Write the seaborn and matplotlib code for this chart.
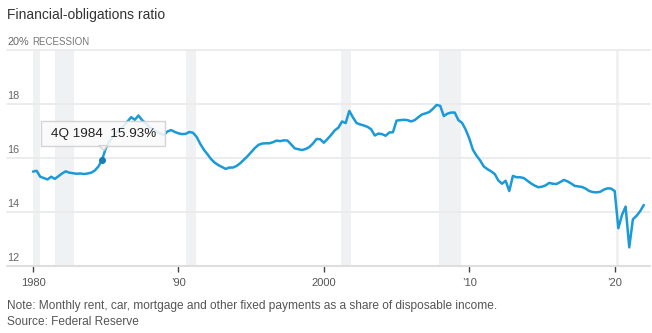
import numpy as np
import pandas as pd
import matplotlib
matplotlib.use("Agg")
import matplotlib.pyplot as plt
import matplotlib.transforms as mtransforms
from matplotlib.patches import Polygon, Rectangle
import seaborn as sns

# ---------------- data (quarterly, 1Q 1980 - 1Q 2022) ----------------
start_year = 1980
ratio = [
    15.49, 15.52, 15.30, 15.25,   # 1980
    15.20, 15.30, 15.22, 15.32,   # 1981
    15.42, 15.50, 15.45, 15.43,   # 1982
    15.41, 15.42, 15.40, 15.42,   # 1983
    15.45, 15.53, 15.68, 15.93,   # 1984
    16.35, 16.60, 16.79, 16.95,   # 1985
    17.06, 17.20, 17.35, 17.51,   # 1986
    17.41, 17.57, 17.40, 17.28,   # 1987
    17.15, 17.05, 16.97, 16.90,   # 1988
    16.85, 16.98, 17.03, 16.96,   # 1989
    16.91, 16.88, 16.89, 16.96,   # 1990
    16.93, 16.78, 16.52, 16.30,   # 1991
    16.13, 15.95, 15.82, 15.73,   # 1992
    15.66, 15.59, 15.64, 15.64,   # 1993
    15.70, 15.80, 15.93, 16.06,   # 1994
    16.21, 16.36, 16.48, 16.53,   # 1995
    16.54, 16.54, 16.58, 16.64,   # 1996
    16.62, 16.65, 16.64, 16.50,   # 1997
    16.35, 16.32, 16.29, 16.33,   # 1998
    16.40, 16.53, 16.70, 16.69,   # 1999
    16.56, 16.70, 16.85, 17.02,   # 2000
    17.12, 17.35, 17.29, 17.74,   # 2001
    17.50, 17.29, 17.24, 17.20,   # 2002
    17.15, 17.06, 16.83, 16.90,   # 2003
    16.88, 16.82, 16.94, 16.95,   # 2004
    17.38, 17.40, 17.41, 17.40,   # 2005
    17.35, 17.40, 17.51, 17.61,   # 2006
    17.65, 17.70, 17.82, 17.96,   # 2007
    17.93, 17.55, 17.64, 17.68,   # 2008
    17.68, 17.40, 17.30, 17.05,   # 2009
    16.72, 16.30, 16.08, 15.90,   # 2010
    15.68, 15.58, 15.50, 15.40,   # 2011
    15.16, 15.04, 15.15, 14.77,   # 2012
    15.33, 15.28, 15.28, 15.25,   # 2013
    15.15, 15.05, 14.97, 14.91,   # 2014
    14.93, 14.98, 15.07, 15.04,   # 2015
    15.03, 15.10, 15.18, 15.13,   # 2016
    15.05, 14.96, 14.94, 14.92,   # 2017
    14.86, 14.77, 14.73, 14.72,   # 2018
    14.74, 14.82, 14.87, 14.86,   # 2019
    14.77, 13.39, 13.88, 14.19,   # 2020
    12.68, 13.72, 13.85, 14.02,   # 2021
    14.25,                        # 2022
]
quarter_pos = [start_year + i / 4 for i in range(len(ratio))]

recession_start = [1980.0, 1981.5, 1990.5, 2001.2, 2007.9, 2020.1]
recession_end   = [1980.5, 1982.85, 1991.2, 2001.85, 2009.45, 2020.3]

y_ticks = [12, 14, 16, 18, 20]
y_labels = ["12", "14", "16", "18", "20%"]
x_ticks = [1980, 1990, 2000, 2010, 2020]
x_labels = ["1980", "\u201990", "2000", "\u201910", "\u201920"]

hl_label = "4Q 1984  15.93%"
hl_x = 1984.75
hl_y = 15.93

title = "Financial-obligations ratio"
note = "Note: Monthly rent, car, mortgage and other fixed payments as a share of disposable income."
source = "Source: Federal Reserve"

df = pd.DataFrame({"year": quarter_pos, "ratio": ratio})

# ---------------- figure ----------------
sns.set_theme(style="white")
plt.rcParams["font.family"] = ["Liberation Sans", "DejaVu Sans"]

W, H = 652, 333
fig = plt.figure(figsize=(W / 100, H / 100), dpi=100)
fig.patch.set_facecolor("white")

ax_left, ax_right = 7, 650
ax_top, ax_bottom = 50, 265.7
ax = fig.add_axes([ax_left / W, (H - ax_bottom) / H,
                   (ax_right - ax_left) / W, (ax_bottom - ax_top) / H])
ax.set_facecolor("none")

ppy = (614.7 - 33.0) / 40.0
x0 = 1980 - (33.0 - ax_left) / ppy
x1 = 1980 + (ax_right - 33.0) / ppy
ax.set_xlim(x0, x1)
ax.set_ylim(12, 20)

for s in ax.spines.values():
    s.set_visible(False)

# recession bands
for a, b in zip(recession_start, recession_end):
    ax.axvspan(a, b, ymin=0, ymax=1, color="#eff1f3", lw=0, zorder=0)

# gridlines
for yv in y_ticks[1:]:
    ax.axhline(yv, color="#ebebeb", lw=1.3, zorder=1, clip_on=False)
ax.axhline(12, color="#dedede", lw=1.5, zorder=1, clip_on=False)

# line
line_color = "#1a9ad8"
sns.lineplot(data=df, x="year", y="ratio", color=line_color, linewidth=1.8,
             ax=ax, zorder=3)

# y labels (above gridlines, inside)
ytrans = mtransforms.blended_transform_factory(ax.transAxes, ax.transData)
for yv, lab in zip(y_ticks, y_labels):
    ax.text(0.0, yv, lab, transform=ytrans + mtransforms.ScaledTranslation(0, 2.0 / 72, fig.dpi_scale_trans),
            ha="left", va="bottom", fontsize=7.8, color="#666666", zorder=5)
ax.text(0.0, 20, "RECESSION", transform=ytrans + mtransforms.ScaledTranslation(25 / 100, 2.0 / 72, fig.dpi_scale_trans),
        ha="left", va="bottom", fontsize=7.0, color="#777777", zorder=5)

# x ticks
ax.set_xticks(x_ticks)
ax.set_xticklabels(x_labels)
ax.set_yticks([])
ax.tick_params(axis="x", length=4, width=1, color="#444444", pad=4.5,
               labelsize=8.0, labelcolor="#555555", bottom=True, direction="out")
ax.set_xlabel("")
ax.set_ylabel("")

# highlight point & tooltip
ax.plot([hl_x], [hl_y], marker="o", ms=4, color="#157fb5", zorder=6)
fig.canvas.draw()
px, py = ax.transData.transform((hl_x, hl_y))
ident = mtransforms.IdentityTransform()
box = Rectangle((px - 60.6, py + 13.6), 124, 25, transform=ident,
                facecolor="#fafafa", edgecolor="#cfcfcf", lw=1.0, alpha=0.88, zorder=7)
fig.add_artist(box)
tri = Polygon([(px - 3.3, py + 14.1), (px + 2.0, py + 9.3), (px + 5.4, py + 14.1)],
              closed=True, transform=ident, facecolor="#fafafa", edgecolor="#cfcfcf",
              lw=1.0, alpha=0.88, zorder=7)
fig.add_artist(tri)
fig.text((px + 1.4) / W, (py + 26.1) / H, hl_label, ha="center", va="center",
         fontsize=9.7, color="#222222", zorder=8)

# title and notes
fig.text(7 / W, 1 - 15.5 / H, title, ha="left", va="center", fontsize=10, color="#333333")
fig.text(7 / W, 1 - 305.5 / H, note, ha="left", va="center", fontsize=8.6, color="#555555")
fig.text(7 / W, 1 - 322 / H, source, ha="left", va="center", fontsize=8.6, color="#555555")

fig.savefig("out.png", dpi=100, facecolor="white")
